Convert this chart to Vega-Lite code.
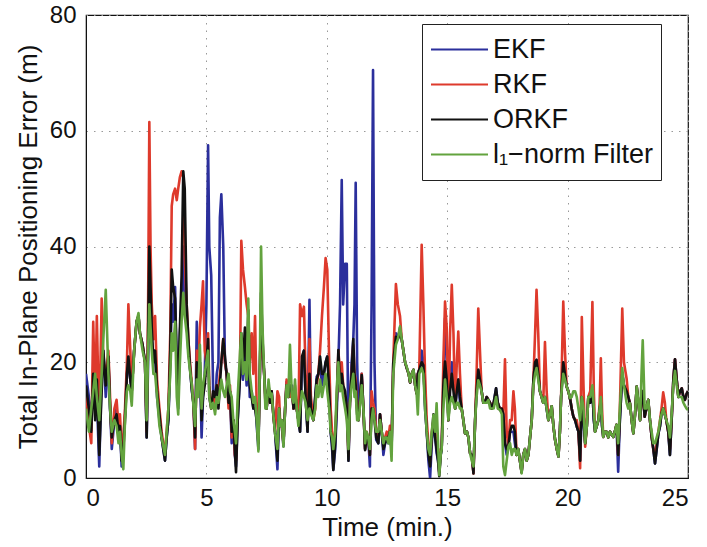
{
"$schema":"https://vega.github.io/schema/vega-lite/v6.json",
"width":602,"height":463,
"autosize":{"type":"none"},
"padding":{"left":86,"top":15,"right":19,"bottom":69},
"background":"white",
"config":{"font":"Liberation Sans","view":{"stroke":"#111","strokeWidth":1.2}},
"data":{"values":[
{"t":0.00,"EKF":18,"RKF":15,"ORKF":16,"L1":12},
{"t":0.12,"EKF":14,"RKF":9,"ORKF":12,"L1":8},
{"t":0.22,"EKF":10,"RKF":6,"ORKF":8,"L1":12},
{"t":0.30,"EKF":17,"RKF":27,"ORKF":18,"L1":15},
{"t":0.38,"EKF":12,"RKF":12,"ORKF":10,"L1":18},
{"t":0.45,"EKF":14,"RKF":28,"ORKF":17,"L1":14},
{"t":0.55,"EKF":2,"RKF":8,"ORKF":4,"L1":10},
{"t":0.65,"EKF":18,"RKF":31,"ORKF":15,"L1":18},
{"t":0.72,"EKF":22,"RKF":20,"ORKF":22,"L1":24},
{"t":0.82,"EKF":14,"RKF":18,"ORKF":16,"L1":32.5},
{"t":0.93,"EKF":20,"RKF":22,"ORKF":21,"L1":18},
{"t":1.00,"EKF":12,"RKF":14,"ORKF":12,"L1":12},
{"t":1.07,"EKF":5,"RKF":6,"ORKF":7,"L1":8},
{"t":1.18,"EKF":10,"RKF":12,"ORKF":10,"L1":10},
{"t":1.27,"EKF":12,"RKF":13.5,"ORKF":11,"L1":9},
{"t":1.35,"EKF":7,"RKF":9,"ORKF":8,"L1":6},
{"t":1.41,"EKF":9,"RKF":11,"ORKF":9,"L1":8},
{"t":1.48,"EKF":2,"RKF":5,"ORKF":3,"L1":4},
{"t":1.55,"EKF":6,"RKF":7,"ORKF":5,"L1":1.5},
{"t":1.62,"EKF":11,"RKF":12,"ORKF":10,"L1":10},
{"t":1.70,"EKF":18,"RKF":20,"ORKF":18,"L1":15},
{"t":1.76,"EKF":20,"RKF":30,"ORKF":21,"L1":16},
{"t":1.84,"EKF":17,"RKF":22,"ORKF":17,"L1":15},
{"t":1.90,"EKF":15,"RKF":15,"ORKF":15,"L1":12.5},
{"t":2.00,"EKF":22,"RKF":22,"ORKF":22,"L1":22},
{"t":2.10,"EKF":27,"RKF":27,"ORKF":27,"L1":27},
{"t":2.18,"EKF":28,"RKF":28,"ORKF":28,"L1":28.5},
{"t":2.24,"EKF":25,"RKF":25,"ORKF":25,"L1":25},
{"t":2.35,"EKF":23,"RKF":23,"ORKF":23,"L1":22},
{"t":2.45,"EKF":20,"RKF":20,"ORKF":20,"L1":20},
{"t":2.52,"EKF":7,"RKF":8,"ORKF":7,"L1":10},
{"t":2.58,"EKF":20,"RKF":30,"ORKF":25,"L1":22},
{"t":2.63,"EKF":35,"RKF":61.5,"ORKF":40,"L1":30},
{"t":2.68,"EKF":25,"RKF":40,"ORKF":33,"L1":26},
{"t":2.73,"EKF":24,"RKF":30,"ORKF":26,"L1":22},
{"t":2.80,"EKF":20,"RKF":24,"ORKF":20,"L1":18},
{"t":2.87,"EKF":22,"RKF":28,"ORKF":22,"L1":18},
{"t":2.95,"EKF":14,"RKF":17,"ORKF":15,"L1":14},
{"t":3.05,"EKF":10,"RKF":12,"ORKF":11,"L1":9},
{"t":3.14,"EKF":7,"RKF":8,"ORKF":7,"L1":7},
{"t":3.28,"EKF":3,"RKF":4,"ORKF":3,"L1":4},
{"t":3.35,"EKF":7,"RKF":8,"ORKF":7,"L1":8},
{"t":3.42,"EKF":10,"RKF":12,"ORKF":10,"L1":12},
{"t":3.50,"EKF":20,"RKF":25,"ORKF":22,"L1":18},
{"t":3.56,"EKF":30,"RKF":47,"ORKF":36,"L1":25},
{"t":3.62,"EKF":27,"RKF":49,"ORKF":33,"L1":22},
{"t":3.70,"EKF":33,"RKF":50,"ORKF":31,"L1":27},
{"t":3.77,"EKF":18,"RKF":48,"ORKF":20,"L1":14},
{"t":3.83,"EKF":12,"RKF":50,"ORKF":15,"L1":11},
{"t":3.90,"EKF":25,"RKF":52,"ORKF":26,"L1":20},
{"t":3.97,"EKF":30,"RKF":53,"ORKF":35,"L1":27},
{"t":4.04,"EKF":40,"RKF":52,"ORKF":53,"L1":32},
{"t":4.10,"EKF":32,"RKF":38,"ORKF":50,"L1":28},
{"t":4.18,"EKF":28,"RKF":30,"ORKF":30,"L1":25},
{"t":4.25,"EKF":22,"RKF":24,"ORKF":24,"L1":21},
{"t":4.32,"EKF":19,"RKF":20,"ORKF":19,"L1":18.5},
{"t":4.40,"EKF":15,"RKF":16,"ORKF":15,"L1":16},
{"t":4.46,"EKF":13,"RKF":13,"ORKF":13,"L1":12.5},
{"t":4.53,"EKF":5,"RKF":5,"ORKF":7,"L1":9},
{"t":4.60,"EKF":27,"RKF":22,"ORKF":20,"L1":17},
{"t":4.66,"EKF":15,"RKF":18,"ORKF":16,"L1":14},
{"t":4.73,"EKF":20,"RKF":26,"ORKF":20,"L1":23},
{"t":4.80,"EKF":7,"RKF":30,"ORKF":10,"L1":12},
{"t":4.86,"EKF":14,"RKF":34,"ORKF":14,"L1":16},
{"t":4.93,"EKF":18,"RKF":22,"ORKF":16,"L1":18},
{"t":5.00,"EKF":30,"RKF":20,"ORKF":20,"L1":20},
{"t":5.07,"EKF":57.5,"RKF":25,"ORKF":24,"L1":22},
{"t":5.12,"EKF":40,"RKF":16,"ORKF":14,"L1":14},
{"t":5.20,"EKF":35,"RKF":12,"ORKF":12,"L1":12},
{"t":5.28,"EKF":15,"RKF":14,"ORKF":15,"L1":13},
{"t":5.36,"EKF":12,"RKF":13,"ORKF":14,"L1":11},
{"t":5.43,"EKF":18,"RKF":16,"ORKF":16,"L1":14},
{"t":5.50,"EKF":20,"RKF":15,"ORKF":12,"L1":13},
{"t":5.56,"EKF":45,"RKF":18,"ORKF":16,"L1":15},
{"t":5.62,"EKF":49,"RKF":20,"ORKF":20,"L1":17},
{"t":5.70,"EKF":40,"RKF":24,"ORKF":24,"L1":15},
{"t":5.77,"EKF":20,"RKF":20,"ORKF":21,"L1":14},
{"t":5.84,"EKF":18,"RKF":18,"ORKF":18,"L1":16},
{"t":5.92,"EKF":13,"RKF":12,"ORKF":13,"L1":18},
{"t":5.98,"EKF":15,"RKF":16,"ORKF":15,"L1":15},
{"t":6.05,"EKF":6,"RKF":7,"ORKF":8,"L1":14},
{"t":6.12,"EKF":10,"RKF":10,"ORKF":10,"L1":10},
{"t":6.18,"EKF":4,"RKF":4,"ORKF":5,"L1":8},
{"t":6.23,"EKF":2,"RKF":3,"ORKF":1,"L1":6},
{"t":6.30,"EKF":10,"RKF":12,"ORKF":10,"L1":14},
{"t":6.40,"EKF":18,"RKF":20,"ORKF":18,"L1":22},
{"t":6.45,"EKF":22,"RKF":41,"ORKF":25,"L1":25},
{"t":6.52,"EKF":17,"RKF":36,"ORKF":20,"L1":18},
{"t":6.60,"EKF":22,"RKF":33,"ORKF":26,"L1":20},
{"t":6.67,"EKF":16,"RKF":30,"ORKF":18,"L1":17},
{"t":6.74,"EKF":24,"RKF":28,"ORKF":29,"L1":31},
{"t":6.80,"EKF":14,"RKF":20,"ORKF":16,"L1":18},
{"t":6.88,"EKF":15,"RKF":25,"ORKF":14,"L1":15},
{"t":6.95,"EKF":12,"RKF":18,"ORKF":12,"L1":13},
{"t":7.02,"EKF":14,"RKF":28,"ORKF":12,"L1":14},
{"t":7.09,"EKF":9,"RKF":12,"ORKF":10,"L1":10},
{"t":7.16,"EKF":5,"RKF":6,"ORKF":6,"L1":4.6},
{"t":7.22,"EKF":18,"RKF":18,"ORKF":18,"L1":20},
{"t":7.27,"EKF":30,"RKF":30,"ORKF":32,"L1":40},
{"t":7.33,"EKF":22,"RKF":22,"ORKF":24,"L1":26},
{"t":7.40,"EKF":18,"RKF":18,"ORKF":18,"L1":18},
{"t":7.45,"EKF":13,"RKF":13,"ORKF":14,"L1":12},
{"t":7.50,"EKF":12,"RKF":12,"ORKF":12,"L1":12},
{"t":7.58,"EKF":16,"RKF":16,"ORKF":16,"L1":17},
{"t":7.65,"EKF":13,"RKF":13,"ORKF":13,"L1":14},
{"t":7.71,"EKF":15,"RKF":15,"ORKF":15,"L1":14.6},
{"t":7.78,"EKF":11,"RKF":11,"ORKF":11,"L1":11},
{"t":7.85,"EKF":8,"RKF":8,"ORKF":8,"L1":7.7},
{"t":7.95,"EKF":1.5,"RKF":15,"ORKF":3,"L1":5},
{"t":8.02,"EKF":12,"RKF":14,"ORKF":12,"L1":12},
{"t":8.06,"EKF":9,"RKF":10,"ORKF":9,"L1":9},
{"t":8.13,"EKF":9,"RKF":9,"ORKF":10,"L1":10},
{"t":8.20,"EKF":5.5,"RKF":6,"ORKF":6,"L1":5.4},
{"t":8.27,"EKF":12,"RKF":12,"ORKF":12,"L1":12},
{"t":8.33,"EKF":16.6,"RKF":17,"ORKF":16,"L1":16},
{"t":8.40,"EKF":14,"RKF":15,"ORKF":14,"L1":14},
{"t":8.47,"EKF":15,"RKF":14,"ORKF":16,"L1":23},
{"t":8.55,"EKF":16,"RKF":15,"ORKF":15,"L1":14},
{"t":8.62,"EKF":12,"RKF":12,"ORKF":12,"L1":13},
{"t":8.68,"EKF":14,"RKF":16,"ORKF":15,"L1":17},
{"t":8.75,"EKF":12,"RKF":12,"ORKF":12,"L1":12},
{"t":8.82,"EKF":10,"RKF":10,"ORKF":10,"L1":9},
{"t":8.89,"EKF":8,"RKF":30,"ORKF":8,"L1":12},
{"t":8.97,"EKF":20,"RKF":28,"ORKF":21,"L1":15},
{"t":9.05,"EKF":22,"RKF":29.6,"ORKF":22,"L1":14},
{"t":9.12,"EKF":14,"RKF":18,"ORKF":14,"L1":13},
{"t":9.20,"EKF":8,"RKF":10,"ORKF":8,"L1":10},
{"t":9.28,"EKF":30.8,"RKF":24,"ORKF":18,"L1":12},
{"t":9.34,"EKF":12,"RKF":14,"ORKF":12,"L1":11},
{"t":9.44,"EKF":10,"RKF":10,"ORKF":10,"L1":10},
{"t":9.52,"EKF":14,"RKF":12,"ORKF":14,"L1":12},
{"t":9.58,"EKF":17.5,"RKF":16,"ORKF":17,"L1":16},
{"t":9.65,"EKF":18,"RKF":18,"ORKF":18,"L1":14},
{"t":9.72,"EKF":20,"RKF":22,"ORKF":21,"L1":17},
{"t":9.80,"EKF":16,"RKF":28,"ORKF":18,"L1":14},
{"t":9.88,"EKF":18,"RKF":33,"ORKF":18,"L1":16},
{"t":9.95,"EKF":20,"RKF":38,"ORKF":20,"L1":18},
{"t":10.02,"EKF":21,"RKF":36,"ORKF":21,"L1":15},
{"t":10.10,"EKF":16,"RKF":20,"ORKF":15,"L1":12},
{"t":10.16,"EKF":8,"RKF":12,"ORKF":8,"L1":8},
{"t":10.22,"EKF":5,"RKF":8,"ORKF":6,"L1":7},
{"t":10.27,"EKF":1.4,"RKF":5,"ORKF":1.4,"L1":5},
{"t":10.35,"EKF":5,"RKF":8,"ORKF":6,"L1":8},
{"t":10.42,"EKF":12,"RKF":14,"ORKF":14,"L1":16},
{"t":10.48,"EKF":20,"RKF":22,"ORKF":22.1,"L1":20},
{"t":10.55,"EKF":30,"RKF":18,"ORKF":16,"L1":15},
{"t":10.62,"EKF":51.5,"RKF":20,"ORKF":18,"L1":16},
{"t":10.68,"EKF":30,"RKF":16,"ORKF":16,"L1":14},
{"t":10.76,"EKF":37,"RKF":14,"ORKF":15,"L1":12},
{"t":10.83,"EKF":37,"RKF":12,"ORKF":12,"L1":10},
{"t":10.90,"EKF":3,"RKF":4,"ORKF":3,"L1":5},
{"t":10.96,"EKF":13,"RKF":13,"ORKF":13,"L1":13},
{"t":11.03,"EKF":20,"RKF":18,"ORKF":18,"L1":16},
{"t":11.10,"EKF":24,"RKF":23,"ORKF":24,"L1":18},
{"t":11.15,"EKF":30,"RKF":18,"ORKF":18,"L1":14},
{"t":11.20,"EKF":51,"RKF":17,"ORKF":16,"L1":15},
{"t":11.26,"EKF":20,"RKF":12,"ORKF":11,"L1":10},
{"t":11.32,"EKF":10,"RKF":10,"ORKF":10,"L1":10},
{"t":11.39,"EKF":15,"RKF":14,"ORKF":14,"L1":13},
{"t":11.45,"EKF":18,"RKF":18,"ORKF":17.8,"L1":16},
{"t":11.52,"EKF":12,"RKF":12,"ORKF":12,"L1":12},
{"t":11.59,"EKF":5,"RKF":5,"ORKF":4.8,"L1":6},
{"t":11.65,"EKF":7,"RKF":8,"ORKF":7,"L1":8},
{"t":11.72,"EKF":7,"RKF":7,"ORKF":7,"L1":7},
{"t":11.79,"EKF":2,"RKF":4,"ORKF":4,"L1":5},
{"t":11.86,"EKF":30,"RKF":15,"ORKF":12,"L1":10},
{"t":11.92,"EKF":70.5,"RKF":13,"ORKF":12,"L1":12},
{"t":11.98,"EKF":20,"RKF":12,"ORKF":10,"L1":10},
{"t":12.05,"EKF":6.6,"RKF":8,"ORKF":7,"L1":8},
{"t":12.14,"EKF":6,"RKF":7,"ORKF":6,"L1":8},
{"t":12.21,"EKF":11,"RKF":11,"ORKF":11,"L1":10},
{"t":12.28,"EKF":8,"RKF":8,"ORKF":8,"L1":8},
{"t":12.35,"EKF":4,"RKF":6,"ORKF":5,"L1":6},
{"t":12.42,"EKF":6,"RKF":7,"ORKF":6,"L1":7},
{"t":12.49,"EKF":7,"RKF":8,"ORKF":7,"L1":7},
{"t":12.56,"EKF":6,"RKF":7,"ORKF":7,"L1":6},
{"t":12.62,"EKF":7.7,"RKF":9,"ORKF":8,"L1":8},
{"t":12.69,"EKF":5,"RKF":6,"ORKF":5,"L1":3},
{"t":12.76,"EKF":19.8,"RKF":20,"ORKF":19.8,"L1":18},
{"t":12.87,"EKF":25,"RKF":33.5,"ORKF":24.4,"L1":23},
{"t":12.95,"EKF":24,"RKF":30,"ORKF":24,"L1":24},
{"t":13.04,"EKF":26,"RKF":28,"ORKF":25,"L1":26.2},
{"t":13.11,"EKF":24,"RKF":24,"ORKF":24,"L1":24},
{"t":13.18,"EKF":22,"RKF":22,"ORKF":22,"L1":22},
{"t":13.25,"EKF":20,"RKF":20,"ORKF":20,"L1":20},
{"t":13.32,"EKF":19,"RKF":19,"ORKF":19,"L1":19.2},
{"t":13.40,"EKF":18,"RKF":18,"ORKF":18,"L1":18},
{"t":13.46,"EKF":16.5,"RKF":16.5,"ORKF":16.5,"L1":16.6},
{"t":13.53,"EKF":18,"RKF":18,"ORKF":18,"L1":18},
{"t":13.60,"EKF":18.7,"RKF":18.7,"ORKF":18.7,"L1":18.7},
{"t":13.67,"EKF":16,"RKF":16,"ORKF":16,"L1":16},
{"t":13.73,"EKF":14.6,"RKF":14.6,"ORKF":14.6,"L1":14.6},
{"t":13.78,"EKF":18,"RKF":18,"ORKF":18,"L1":11},
{"t":13.84,"EKF":18.7,"RKF":18.7,"ORKF":18.7,"L1":18},
{"t":13.94,"EKF":22,"RKF":40.3,"ORKF":20,"L1":19},
{"t":14.01,"EKF":20,"RKF":30,"ORKF":19.5,"L1":18},
{"t":14.08,"EKF":12,"RKF":18,"ORKF":13,"L1":12},
{"t":14.15,"EKF":8,"RKF":10,"ORKF":8,"L1":8},
{"t":14.22,"EKF":3,"RKF":6,"ORKF":4,"L1":5},
{"t":14.29,"EKF":0,"RKF":3,"ORKF":2,"L1":4},
{"t":14.36,"EKF":6,"RKF":8,"ORKF":7,"L1":8},
{"t":14.43,"EKF":10,"RKF":10,"ORKF":11,"L1":10.9},
{"t":14.50,"EKF":7,"RKF":8,"ORKF":7,"L1":8},
{"t":14.56,"EKF":4.3,"RKF":6,"ORKF":5,"L1":12.9},
{"t":14.62,"EKF":3,"RKF":4,"ORKF":3,"L1":6},
{"t":14.67,"EKF":1,"RKF":1,"ORKF":0.3,"L1":0.5},
{"t":14.73,"EKF":4,"RKF":5,"ORKF":4,"L1":4},
{"t":14.77,"EKF":5,"RKF":5,"ORKF":5,"L1":5},
{"t":14.84,"EKF":15,"RKF":20,"ORKF":16,"L1":12},
{"t":14.91,"EKF":27.6,"RKF":30.5,"ORKF":20.1,"L1":17},
{"t":14.98,"EKF":22,"RKF":26,"ORKF":17,"L1":14},
{"t":15.05,"EKF":10,"RKF":10,"ORKF":10,"L1":10},
{"t":15.12,"EKF":17,"RKF":25,"ORKF":15,"L1":13},
{"t":15.19,"EKF":20,"RKF":33.4,"ORKF":18,"L1":14},
{"t":15.26,"EKF":18,"RKF":25,"ORKF":15,"L1":13},
{"t":15.33,"EKF":12,"RKF":12,"ORKF":12,"L1":12},
{"t":15.40,"EKF":16,"RKF":20,"ORKF":15,"L1":13},
{"t":15.46,"EKF":17,"RKF":25.3,"ORKF":17,"L1":13},
{"t":15.53,"EKF":13,"RKF":18,"ORKF":14,"L1":12},
{"t":15.60,"EKF":12,"RKF":12,"ORKF":12,"L1":12},
{"t":15.67,"EKF":10,"RKF":10,"ORKF":10,"L1":10},
{"t":15.74,"EKF":7.7,"RKF":7.7,"ORKF":7.7,"L1":7.7},
{"t":15.82,"EKF":8,"RKF":8,"ORKF":8,"L1":8},
{"t":15.88,"EKF":7,"RKF":7,"ORKF":7,"L1":7},
{"t":15.95,"EKF":4.3,"RKF":4.3,"ORKF":4.3,"L1":4.3},
{"t":16.02,"EKF":4,"RKF":4,"ORKF":4,"L1":3},
{"t":16.09,"EKF":1,"RKF":0.8,"ORKF":0.8,"L1":2},
{"t":16.16,"EKF":10,"RKF":10,"ORKF":10,"L1":10},
{"t":16.22,"EKF":15,"RKF":18,"ORKF":15,"L1":14},
{"t":16.29,"EKF":18.7,"RKF":29.3,"ORKF":18.7,"L1":16.9},
{"t":16.36,"EKF":17,"RKF":22,"ORKF":17,"L1":16},
{"t":16.43,"EKF":15,"RKF":15,"ORKF":15,"L1":14.9},
{"t":16.50,"EKF":13,"RKF":13,"ORKF":13,"L1":13},
{"t":16.57,"EKF":13,"RKF":13,"ORKF":13,"L1":13},
{"t":16.64,"EKF":14,"RKF":14,"ORKF":14,"L1":13},
{"t":16.71,"EKF":13.5,"RKF":13.5,"ORKF":13.5,"L1":13.5},
{"t":16.78,"EKF":13,"RKF":13,"ORKF":13,"L1":12},
{"t":16.85,"EKF":12,"RKF":12,"ORKF":12,"L1":12},
{"t":16.93,"EKF":13,"RKF":13,"ORKF":13,"L1":12},
{"t":17.03,"EKF":15.5,"RKF":14,"ORKF":15.5,"L1":14},
{"t":17.10,"EKF":13,"RKF":13,"ORKF":13,"L1":12},
{"t":17.20,"EKF":11.75,"RKF":11.75,"ORKF":11.75,"L1":11.75},
{"t":17.27,"EKF":12,"RKF":12,"ORKF":12,"L1":11},
{"t":17.33,"EKF":11,"RKF":11,"ORKF":11,"L1":2},
{"t":17.40,"EKF":6,"RKF":20.5,"ORKF":6,"L1":0.5},
{"t":17.47,"EKF":4,"RKF":8,"ORKF":5,"L1":3},
{"t":17.54,"EKF":5.4,"RKF":5.4,"ORKF":5.4,"L1":5.4},
{"t":17.61,"EKF":8,"RKF":10,"ORKF":8,"L1":6},
{"t":17.68,"EKF":8,"RKF":10,"ORKF":9,"L1":4},
{"t":17.75,"EKF":8,"RKF":15,"ORKF":9,"L1":5},
{"t":17.81,"EKF":6,"RKF":12,"ORKF":8,"L1":5},
{"t":17.88,"EKF":4,"RKF":4,"ORKF":4,"L1":4},
{"t":17.95,"EKF":5,"RKF":5,"ORKF":5,"L1":5},
{"t":18.02,"EKF":3,"RKF":3,"ORKF":3,"L1":3},
{"t":18.09,"EKF":1,"RKF":1,"ORKF":1,"L1":0.8},
{"t":18.16,"EKF":4,"RKF":4,"ORKF":4,"L1":4},
{"t":18.23,"EKF":5,"RKF":5,"ORKF":5,"L1":5},
{"t":18.30,"EKF":3,"RKF":3,"ORKF":3,"L1":3},
{"t":18.37,"EKF":4,"RKF":4,"ORKF":4,"L1":4},
{"t":18.44,"EKF":7,"RKF":7,"ORKF":7,"L1":7},
{"t":18.51,"EKF":10,"RKF":10,"ORKF":10,"L1":10},
{"t":18.58,"EKF":17,"RKF":17,"ORKF":17,"L1":16},
{"t":18.65,"EKF":20,"RKF":25,"ORKF":20,"L1":18},
{"t":18.71,"EKF":20.4,"RKF":32.5,"ORKF":20.4,"L1":19},
{"t":18.78,"EKF":18,"RKF":25,"ORKF":18,"L1":17},
{"t":18.85,"EKF":15,"RKF":15,"ORKF":15,"L1":15},
{"t":18.92,"EKF":14,"RKF":14,"ORKF":14,"L1":14},
{"t":18.99,"EKF":13,"RKF":13,"ORKF":13,"L1":13},
{"t":19.06,"EKF":14,"RKF":23.5,"ORKF":14,"L1":14},
{"t":19.13,"EKF":12,"RKF":15,"ORKF":12,"L1":12},
{"t":19.20,"EKF":10,"RKF":10,"ORKF":10,"L1":10},
{"t":19.27,"EKF":11,"RKF":11,"ORKF":11,"L1":11},
{"t":19.34,"EKF":12.4,"RKF":12.4,"ORKF":12.4,"L1":12.4},
{"t":19.41,"EKF":9,"RKF":9,"ORKF":9,"L1":9},
{"t":19.48,"EKF":6.6,"RKF":6.6,"ORKF":6.6,"L1":6.6},
{"t":19.55,"EKF":5,"RKF":5,"ORKF":5,"L1":5},
{"t":19.62,"EKF":3.7,"RKF":3.7,"ORKF":3.7,"L1":3.7},
{"t":19.68,"EKF":8,"RKF":8,"ORKF":8,"L1":8},
{"t":19.73,"EKF":14,"RKF":14,"ORKF":14,"L1":14},
{"t":19.82,"EKF":20,"RKF":30.5,"ORKF":20,"L1":18},
{"t":19.89,"EKF":18,"RKF":22,"ORKF":18,"L1":17},
{"t":19.96,"EKF":15.8,"RKF":15.8,"ORKF":15.8,"L1":15.8},
{"t":20.03,"EKF":15,"RKF":15,"ORKF":15,"L1":15},
{"t":20.10,"EKF":13.8,"RKF":13.8,"ORKF":13.8,"L1":13.8},
{"t":20.17,"EKF":12,"RKF":12,"ORKF":12,"L1":14},
{"t":20.24,"EKF":10.6,"RKF":10.6,"ORKF":10.6,"L1":15},
{"t":20.31,"EKF":10,"RKF":10,"ORKF":10,"L1":15},
{"t":20.38,"EKF":8.9,"RKF":10,"ORKF":8.9,"L1":14},
{"t":20.45,"EKF":8,"RKF":8,"ORKF":8,"L1":12},
{"t":20.52,"EKF":3,"RKF":1.7,"ORKF":3,"L1":10},
{"t":20.59,"EKF":12,"RKF":27.8,"ORKF":14,"L1":14},
{"t":20.66,"EKF":10,"RKF":16,"ORKF":10,"L1":12},
{"t":20.73,"EKF":6,"RKF":5.4,"ORKF":6,"L1":6},
{"t":20.80,"EKF":9,"RKF":9,"ORKF":9,"L1":9},
{"t":20.86,"EKF":14,"RKF":14,"ORKF":14,"L1":14},
{"t":20.94,"EKF":13,"RKF":15,"ORKF":13,"L1":14},
{"t":21.03,"EKF":15.2,"RKF":30.4,"ORKF":15.2,"L1":16},
{"t":21.09,"EKF":10,"RKF":15,"ORKF":10,"L1":12},
{"t":21.14,"EKF":8,"RKF":8,"ORKF":8,"L1":8},
{"t":21.21,"EKF":9,"RKF":9,"ORKF":9,"L1":9},
{"t":21.28,"EKF":10,"RKF":10,"ORKF":10,"L1":10},
{"t":21.33,"EKF":12,"RKF":13,"ORKF":12,"L1":12},
{"t":21.38,"EKF":13,"RKF":20.7,"ORKF":13,"L1":14},
{"t":21.43,"EKF":9,"RKF":12,"ORKF":9,"L1":10},
{"t":21.48,"EKF":7.1,"RKF":7.1,"ORKF":7.1,"L1":7.1},
{"t":21.55,"EKF":8,"RKF":8,"ORKF":8,"L1":8},
{"t":21.62,"EKF":8,"RKF":8,"ORKF":8,"L1":8},
{"t":21.69,"EKF":7,"RKF":7,"ORKF":7,"L1":7},
{"t":21.76,"EKF":8,"RKF":8,"ORKF":8,"L1":8},
{"t":21.83,"EKF":7.5,"RKF":7.5,"ORKF":7.5,"L1":7.5},
{"t":21.90,"EKF":7.1,"RKF":7.1,"ORKF":7.1,"L1":7.1},
{"t":21.96,"EKF":8,"RKF":8,"ORKF":8,"L1":8},
{"t":22.03,"EKF":9.2,"RKF":9.2,"ORKF":9.2,"L1":9.2},
{"t":22.10,"EKF":1.1,"RKF":4,"ORKF":4,"L1":6},
{"t":22.17,"EKF":10,"RKF":12,"ORKF":10,"L1":12},
{"t":22.27,"EKF":18,"RKF":29.3,"ORKF":18,"L1":19},
{"t":22.34,"EKF":16,"RKF":20,"ORKF":16,"L1":16},
{"t":22.45,"EKF":15,"RKF":17.2,"ORKF":15,"L1":13},
{"t":22.52,"EKF":14,"RKF":14,"ORKF":14,"L1":12},
{"t":22.59,"EKF":12.9,"RKF":12.9,"ORKF":12.9,"L1":12.9},
{"t":22.66,"EKF":10,"RKF":10,"ORKF":10,"L1":10},
{"t":22.73,"EKF":7.7,"RKF":7.7,"ORKF":7.7,"L1":7.7},
{"t":22.80,"EKF":11,"RKF":11,"ORKF":11,"L1":11},
{"t":22.87,"EKF":15.8,"RKF":15.8,"ORKF":15.8,"L1":15.8},
{"t":22.94,"EKF":13,"RKF":13,"ORKF":13,"L1":13},
{"t":23.01,"EKF":10,"RKF":10,"ORKF":10,"L1":10},
{"t":23.07,"EKF":14,"RKF":14,"ORKF":14,"L1":18},
{"t":23.12,"EKF":15,"RKF":15,"ORKF":15,"L1":23.8},
{"t":23.20,"EKF":10.6,"RKF":10.6,"ORKF":10.6,"L1":12},
{"t":23.27,"EKF":12,"RKF":12,"ORKF":12,"L1":12},
{"t":23.35,"EKF":13.5,"RKF":13.5,"ORKF":13.5,"L1":13.5},
{"t":23.42,"EKF":10,"RKF":10,"ORKF":10,"L1":10},
{"t":23.49,"EKF":7.1,"RKF":7.1,"ORKF":7.1,"L1":8},
{"t":23.56,"EKF":5,"RKF":5,"ORKF":5,"L1":6},
{"t":23.63,"EKF":2.5,"RKF":3.5,"ORKF":2.5,"L1":6},
{"t":23.70,"EKF":5,"RKF":6,"ORKF":5,"L1":7},
{"t":23.77,"EKF":7.7,"RKF":8,"ORKF":7.7,"L1":8},
{"t":23.84,"EKF":9,"RKF":10,"ORKF":9,"L1":10},
{"t":23.90,"EKF":11.2,"RKF":12,"ORKF":11.2,"L1":11},
{"t":23.97,"EKF":12,"RKF":14.8,"ORKF":12,"L1":12},
{"t":24.04,"EKF":11,"RKF":13,"ORKF":11,"L1":11},
{"t":24.10,"EKF":10,"RKF":10,"ORKF":10,"L1":10},
{"t":24.18,"EKF":8,"RKF":8,"ORKF":8,"L1":9},
{"t":24.25,"EKF":4,"RKF":5,"ORKF":4,"L1":7},
{"t":24.32,"EKF":10,"RKF":10,"ORKF":10,"L1":11},
{"t":24.39,"EKF":16.9,"RKF":16.9,"ORKF":16.9,"L1":16},
{"t":24.46,"EKF":20.5,"RKF":20.5,"ORKF":20.5,"L1":18.5},
{"t":24.53,"EKF":17,"RKF":17,"ORKF":17,"L1":16},
{"t":24.60,"EKF":14,"RKF":14,"ORKF":14,"L1":14},
{"t":24.67,"EKF":15,"RKF":15,"ORKF":15,"L1":14},
{"t":24.74,"EKF":15.5,"RKF":15.5,"ORKF":15.5,"L1":14},
{"t":24.81,"EKF":14,"RKF":14,"ORKF":14,"L1":13},
{"t":24.87,"EKF":13.5,"RKF":13.5,"ORKF":13.5,"L1":12.5},
{"t":24.94,"EKF":14.5,"RKF":14.5,"ORKF":14.5,"L1":12},
{"t":25.00,"EKF":15,"RKF":15,"ORKF":15,"L1":11.75}
]},
"transform":[{"fold":["EKF","RKF","ORKF","L1"],"as":["s","v"]}],
"mark":{"type":"line","strokeWidth":2.6,"strokeJoin":"round","clip":true},
"encoding":{
"x":{"field":"t","type":"quantitative","scale":{"domain":[0,25],"nice":false},
"axis":{"values":[0,5,10,15,20,25],"title":"Time (min.)","titleFontSize":26,"titleFontWeight":"normal","titleColor":"#111","titlePadding":4,"labelFontSize":24,"labelColor":"#111","labelPadding":8,"ticks":false,"domainColor":"#111","grid":true,"gridColor":"#999","gridDash":[1.5,6],"gridWidth":1}},
"y":{"field":"v","type":"quantitative","scale":{"domain":[0,80],"nice":false},
"axis":{"values":[0,20,40,60,80],"title":"Total In-Plane Positioning Error (m)","titleFontSize":26,"titleFontWeight":"normal","titleColor":"#111","titlePadding":8,"labelFontSize":24,"labelColor":"#111","labelPadding":10,"ticks":false,"domainColor":"#111","grid":true,"gridColor":"#999","gridDash":[1.5,6],"gridWidth":1}},
"color":{"field":"s","type":"nominal","scale":{"domain":["EKF","RKF","ORKF","L1"],"range":["#2b2f9c","#de3a2c","#111111","#63a33e"]},
"legend":{"title":null,"orient":"none","legendX":336,"legendY":9,"symbolType":"stroke","symbolSize":3249,"symbolStrokeWidth":2,"clipHeight":35,"rowPadding":0,"labelFontSize":27,"labelColor":"#111","labelOffset":4,"padding":8,"strokeColor":"#222","fillColor":"white","labelExpr":"datum.label == 'L1' ? 'l₁−norm Filter' : datum.label"}}
}
}
